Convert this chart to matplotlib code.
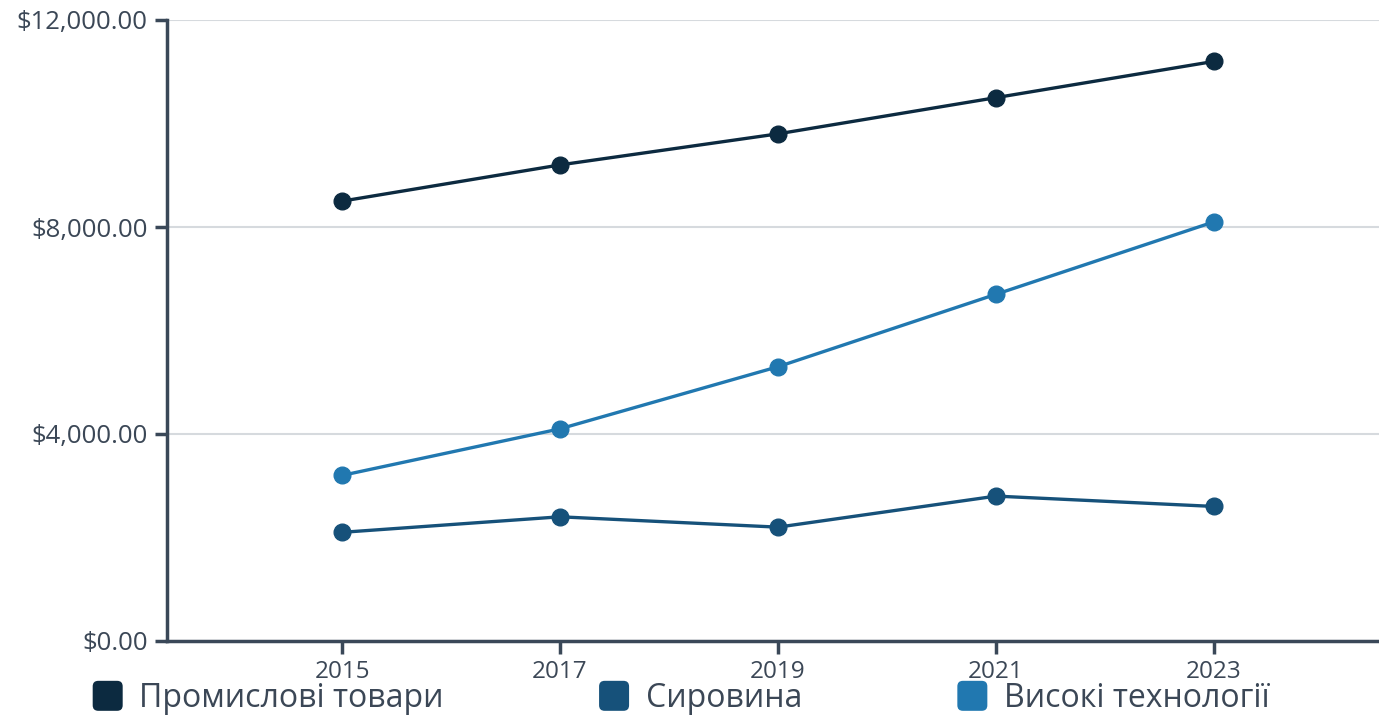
import matplotlib
matplotlib.use("Agg")
import matplotlib.pyplot as plt
from matplotlib.ticker import FuncFormatter
from matplotlib.patches import Patch, FancyBboxPatch
from matplotlib.legend_handler import HandlerPatch

years = [2015, 2017, 2019, 2021, 2023]
series_names = ["Промислові товари", "Сировина", "Високі технології"]
industrial = [8500, 9200, 9800, 10500, 11200]
raw = [2100, 2400, 2200, 2800, 2600]
hightech = [3200, 4100, 5300, 6700, 8100]
colors = ["#0c2a40", "#16517a", "#2178b0"]

plt.rcParams['font.family'] = ['Open Sans', 'DejaVu Sans']
text_color = "#3b4756"
axis_color = "#3a4858"

fig = plt.figure(figsize=(13.79, 7.15), dpi=100)
ax = fig.add_axes([167/1379, 74/715, (1379-167)/1379, (641-20)/715])

for vals, c in zip([industrial, raw, hightech], colors):
    ax.plot(years, vals, color=c, lw=2.4, marker='o', markersize=12, zorder=3, clip_on=False)

ax.set_xlim(2013.394, 2024.514)
ax.set_ylim(0, 12000)
ax.set_xticks(years)
ax.set_yticks([0, 4000, 8000, 12000])
ax.yaxis.set_major_formatter(FuncFormatter(lambda v, p: f"${v:,.2f}"))
ax.grid(axis='y', color="#d6dade", lw=1.5, zorder=0)
ax.set_axisbelow(True)
for s in ['top', 'right']:
    ax.spines[s].set_visible(False)
for s in ['left', 'bottom']:
    ax.spines[s].set_color(axis_color)
    ax.spines[s].set_linewidth(2.5)
ax.tick_params(axis='both', colors=axis_color, width=2.5, length=9, labelcolor=text_color)
ax.tick_params(axis='y', pad=5, labelsize=18.5)
ax.tick_params(axis='x', pad=5, labelsize=17.5)


class RoundSquareHandler(HandlerPatch):
    def create_artists(self, legend, orig_handle, xdescent, ydescent, width, height, fontsize, trans):
        side = 30 * 72 / 100  # points
        cx = -xdescent + width / 2
        cy = -ydescent + height / 2
        p = FancyBboxPatch((cx - side / 2, cy - side / 2), side, side,
                           boxstyle="round,pad=0,rounding_size=4",
                           facecolor=orig_handle.get_facecolor(), edgecolor='none', transform=trans)
        return [p]


handles = [Patch(facecolor=c) for c in colors]
leg = fig.legend(handles, series_names, loc='lower left', bbox_to_anchor=(89/1379, 0.0), ncol=3,
                 frameon=False, fontsize=23, columnspacing=4.75, handletextpad=0.4, labelcolor=text_color,
                 handlelength=1.17, handleheight=0.7, borderpad=0, borderaxespad=0,
                 handler_map={Patch: RoundSquareHandler()})

fig.savefig("out.png", dpi=100)
